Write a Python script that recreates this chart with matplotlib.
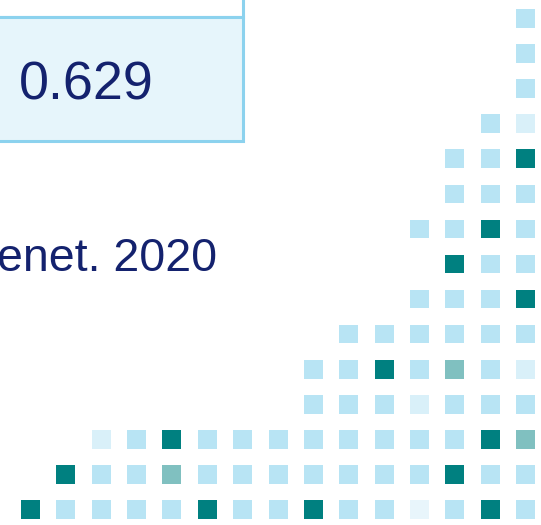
import matplotlib
matplotlib.use("Agg")
import matplotlib.pyplot as plt
from matplotlib.patches import Rectangle
from matplotlib.collections import PatchCollection

# ---- data ----
score_text = "0.629"
citation_text = "enet. 2020"
# cell levels per row (top to bottom), columns left to right
# . empty, V very pale, P pale, L light, M medium, T teal
grid_rows = [
    "..............L",
    "..............L",
    "..............L",
    ".............LP",
    "............LLT",
    "............LLL",
    "...........LLTL",
    "............TLL",
    "...........LLLT",
    ".........LLLLLL",
    "........LLTLMLP",
    "........LLLPLLL",
    "..PLTLLLLLLLLTM",
    ".TLLMLLLLLLLTLL",
    "TLLLLTLLTLLVLTL",
]
level_colors = {
    "V": "#E8F5FB",
    "P": "#D9F0F9",
    "L": "#B8E4F4",
    "M": "#80C0C0",
    "T": "#008080",
}

W, H = 541, 525
fig = plt.figure(figsize=(W / 100, H / 100), dpi=100)
fig.patch.set_facecolor("white")

# grid axes: data units = grid index
ax = fig.add_axes([0, 0, 1, 1])
x0, dx = 30.5, 35.36
y0, dy = 18.5, 35.07
ax.set_xlim((0 - x0) / dx, (W - x0) / dx)
ax.set_ylim((H - y0) / dy, (0 - y0) / dy)
ax.axis("off")

sw = 19.0 / dx
sh = 18.7 / dy
patches, colors = [], []
for r, row in enumerate(grid_rows):
    for c, ch in enumerate(row):
        if ch in level_colors:
            patches.append(Rectangle((c - sw / 2, r - sh / 2), sw, sh))
            colors.append(level_colors[ch])
pc = PatchCollection(patches, facecolors=colors, edgecolors="none")
ax.add_collection(pc)

# box decorations in pixel coordinates
ov = fig.add_axes([0, 0, 1, 1], facecolor="none")
ov.set_xlim(0, W)
ov.set_ylim(H, 0)
ov.axis("off")
border = "#8CD2EE"
ov.add_patch(Rectangle((-5, -5), 247.5, 21.5, facecolor="white",
                       edgecolor=border, linewidth=2.2))
ov.add_patch(Rectangle((-5, 16.5), 247.5, 124.5, facecolor="#E6F5FB",
                       edgecolor=border, linewidth=2.2))

navy = "#14226E"
ov.text(18.5, 100, score_text, fontsize=38.8, color=navy,
        family="Liberation Sans", ha="left", va="baseline")
ov.text(217, 271, citation_text, fontsize=33.5, color=navy,
        family="Liberation Sans", ha="right", va="baseline")

fig.savefig("out.png", dpi=100)
